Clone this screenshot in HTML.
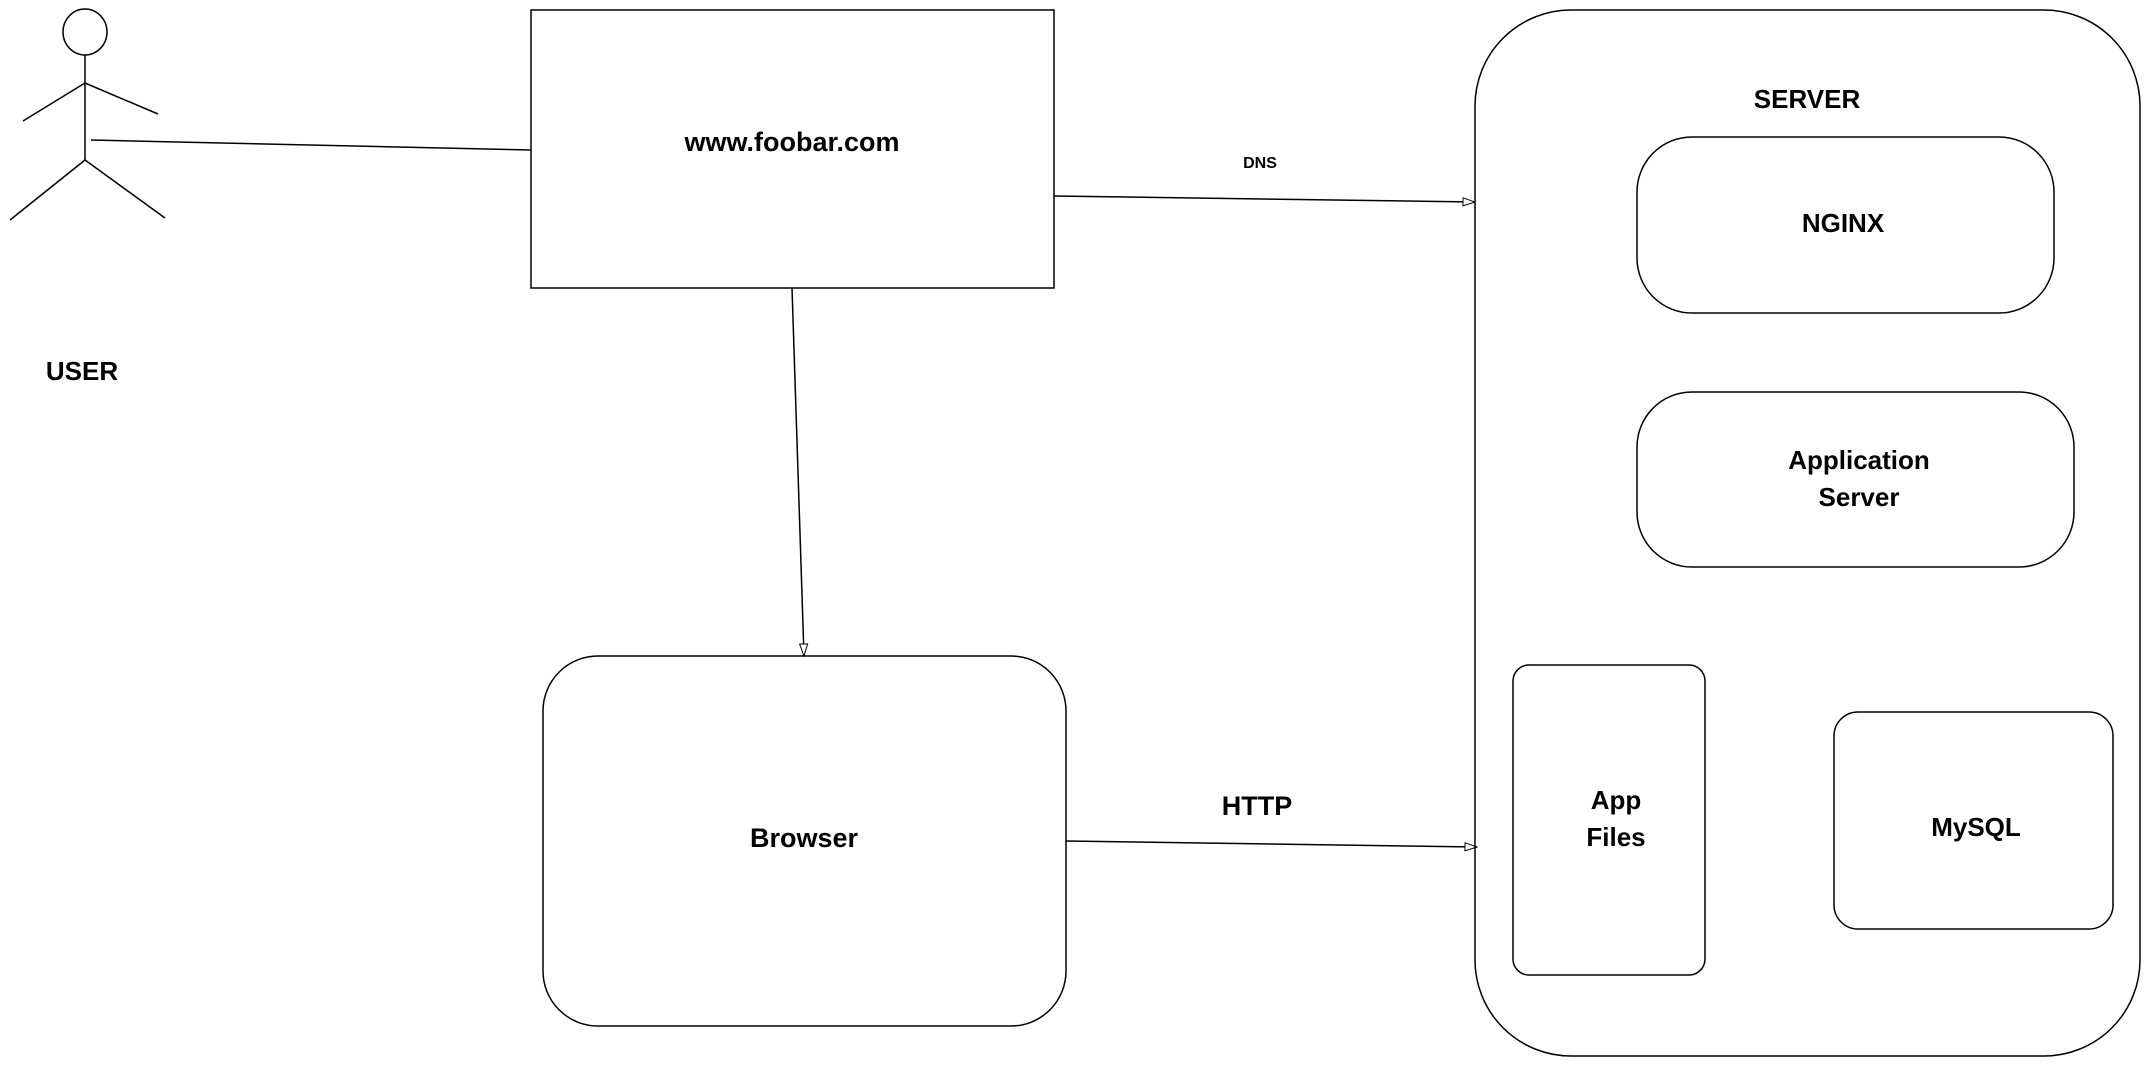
<!DOCTYPE html>
<html><head><meta charset="utf-8"><style>
html,body{margin:0;padding:0;background:#fff;}
svg{display:block;}
text{font-family:"Liberation Sans",sans-serif;font-weight:bold;fill:#000;text-anchor:middle;}
</style></head><body>
<svg width="2151" height="1067" viewBox="0 0 2151 1067" xmlns="http://www.w3.org/2000/svg">
<defs>
<marker id="a" markerWidth="14" markerHeight="10" refX="13" refY="5" orient="auto" markerUnits="userSpaceOnUse">
<path d="M1,1 L13,5 L1,9 Z" fill="#fff" stroke="#000" stroke-width="1"/>
</marker>
</defs>
<g fill="none" stroke="#000" stroke-width="1.5">
<ellipse cx="85" cy="32" rx="22" ry="23"/>
<line x1="85" y1="55" x2="85" y2="160"/>
<line x1="85" y1="83" x2="23" y2="121"/>
<line x1="85" y1="83" x2="158" y2="114"/>
<line x1="85" y1="160" x2="10" y2="220"/>
<line x1="85" y1="160" x2="165" y2="218"/>
<line x1="91" y1="140" x2="531" y2="150"/>
<rect x="531" y="10" width="523" height="278"/>
<line x1="1054" y1="196" x2="1475" y2="202" marker-end="url(#a)"/>
<line x1="792" y1="288" x2="804" y2="656" marker-end="url(#a)"/>
<rect x="543" y="656" width="523" height="370" rx="55" ry="55"/>
<line x1="1066" y1="841" x2="1477" y2="847" marker-end="url(#a)"/>
<rect x="1475" y="10" width="665" height="1046" rx="96" ry="96"/>
<rect x="1637" y="137" width="417" height="176" rx="55" ry="55"/>
<rect x="1637" y="392" width="437" height="175" rx="55" ry="55"/>
<rect x="1513" y="665" width="192" height="310" rx="16" ry="16"/>
<rect x="1834" y="712" width="279" height="217" rx="24" ry="24"/>
</g>
<text x="792" y="151" font-size="27">www.foobar.com</text>
<text x="82" y="380" font-size="26">USER</text>
<text x="1260" y="168" font-size="16" font-weight="normal">DNS</text>
<text x="804" y="847" font-size="27">Browser</text>
<text x="1257" y="815" font-size="27">HTTP</text>
<text x="1807" y="108" font-size="26">SERVER</text>
<text x="1843" y="232" font-size="26">NGINX</text>
<text x="1859" y="469" font-size="26">Application</text>
<text x="1859" y="506" font-size="26">Server</text>
<text x="1616" y="809" font-size="26">App</text>
<text x="1616" y="846" font-size="26">Files</text>
<text x="1976" y="836" font-size="26">MySQL</text>
</svg>
</body></html>
